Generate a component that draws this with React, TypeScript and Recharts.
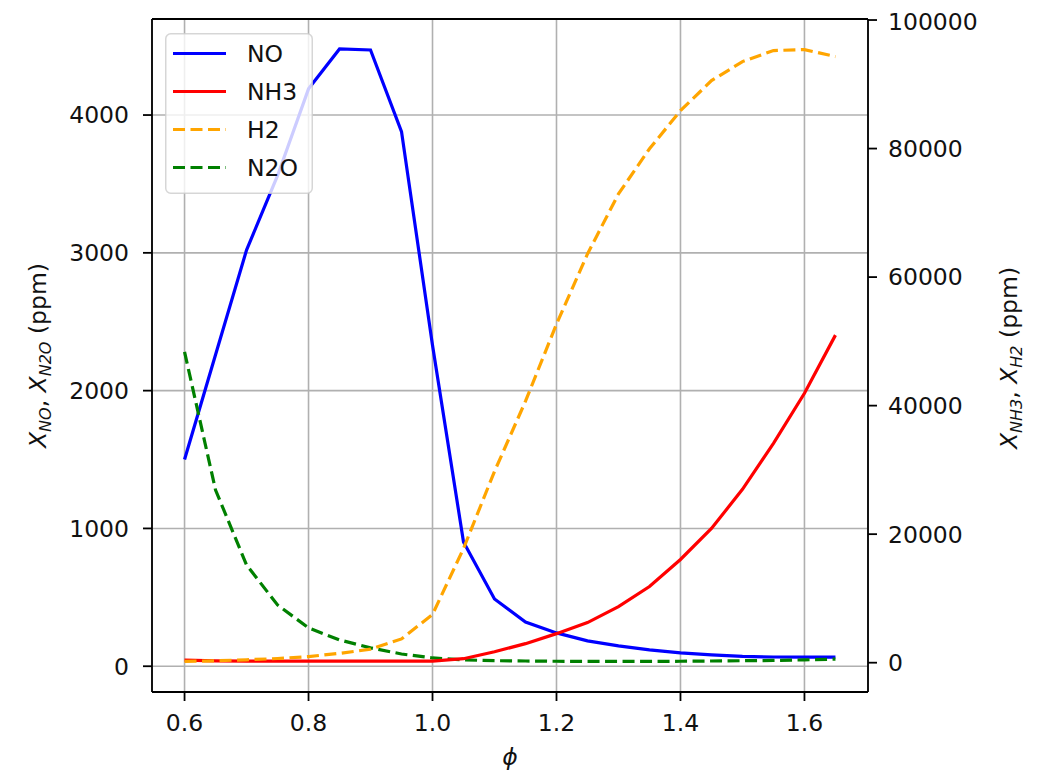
import React from 'react';
import { LineChart, Line, XAxis, YAxis, CartesianGrid, ReferenceLine, Legend } from 'recharts';

const phi = [0.6, 0.65, 0.7, 0.75, 0.8, 0.85, 0.9, 0.95, 1.0, 1.05, 1.1, 1.15, 1.2, 1.25, 1.3, 1.35, 1.4, 1.45, 1.5, 1.55, 1.6, 1.65];
const noPpm = [1500, 2260, 3020, 3560, 4190, 4480, 4472, 3880, 2330, 902, 488, 321, 242, 184, 148, 119, 97, 82, 71, 67, 66, 66];
const nh3Ppm = [400, 280, 250, 250, 250, 250, 250, 250, 250, 620, 1700, 2960, 4520, 6240, 8730, 11850, 16060, 20890, 26970, 34140, 41930, 50970];
const h2Ppm = [200, 300, 450, 650, 950, 1450, 2100, 3700, 7500, 17770, 29770, 40690, 52690, 63600, 72950, 79970, 85890, 90570, 93530, 95250, 95400, 94310];
const n2oPpm = [2281, 1279, 735, 445, 278, 191, 133, 89, 60, 46, 40, 38, 36, 35, 35, 35, 36, 38, 40, 42, 46, 52];

const xTicks = [0.6, 0.8, 1.0, 1.2, 1.4, 1.6];
const leftTicks = [0, 1000, 2000, 3000, 4000];
const rightTicks = [0, 20000, 40000, 60000, 80000, 100000];

const seriesNames = ['NO', 'NH3', 'H2', 'N2O'];
const seriesColors = ['#0000ff', '#ff0000', '#ffa500', '#008000'];
const seriesDashed = [false, false, true, true];

const data = phi.map((p, i) => ({
  phi: p,
  no: noPpm[i],
  nh3: nh3Ppm[i],
  h2: h2Ppm[i],
  n2o: n2oPpm[i],
}));

const FONT = 'DejaVu Sans, Verdana, sans-serif';
const FS = 23.5;
const SUB = 16;
const DASH = '12 5.5';
const LW = 3.2;

const tickStyle = { fontFamily: FONT, fontSize: FS, fill: '#111' };

const LegendBox = () => (
  <svg width={148} height={161} style={{ display: 'block', overflow: 'visible' }}>
    <rect x={0.75} y={0.75} width={146.5} height={159.5} rx={5} ry={5} fill="rgba(255,255,255,0.8)" stroke="rgba(204,204,204,0.8)" strokeWidth={1.5} />
    {seriesNames.map((n, i) => {
      const cy = 20.5 + i * 38;
      return (
        <g key={n}>
          <line x1={8} x2={61} y1={cy} y2={cy} stroke={seriesColors[i]} strokeWidth={LW} strokeDasharray={seriesDashed[i] ? DASH : undefined} />
          <text x={82} y={cy + 8.5} fontFamily={FONT} fontSize={FS} fill="#111">{n}</text>
        </g>
      );
    })}
  </svg>
);

export default function App() {
  return (
    <div style={{ position: 'relative', width: 1030, height: 767 }}>
      <LineChart width={1030} height={767} data={data} margin={{ top: 11, right: 0, bottom: 0, left: 0 }}>
        <CartesianGrid yAxisId="left" stroke="#b0b0b0" strokeWidth={1.6} />
        <XAxis
          dataKey="phi"
          type="number"
          domain={[0.5475, 1.7025]}
          allowDataOverflow
          ticks={xTicks}
          tickFormatter={(v: number) => v.toFixed(1)}
          height={83}
          tickSize={9}
          tickMargin={13}
          tick={tickStyle}
          stroke="#000"
          axisLine={{ stroke: '#000', strokeWidth: 1.8 }}
          tickLine={{ stroke: '#000', strokeWidth: 1.8 }}
        />
        <YAxis
          yAxisId="left"
          orientation="left"
          type="number"
          domain={[-187, 4697]}
          allowDataOverflow
          ticks={leftTicks}
          width={144}
          tickSize={9}
          tickMargin={14}
          tick={tickStyle}
          axisLine={{ stroke: '#000', strokeWidth: 1.8 }}
          tickLine={{ stroke: '#000', strokeWidth: 1.8 }}
        />
        <YAxis
          yAxisId="right"
          orientation="right"
          type="number"
          domain={[-4560, 100160]}
          allowDataOverflow
          ticks={rightTicks}
          width={170}
          tickSize={9}
          tickMargin={11}
          tick={tickStyle}
          axisLine={{ stroke: '#000', strokeWidth: 1.8 }}
          tickLine={{ stroke: '#000', strokeWidth: 1.8 }}
        />
        <ReferenceLine yAxisId="left" y={4697} stroke="#000" strokeWidth={1.8} ifOverflow="extendDomain" />
        <Line yAxisId="left" type="linear" dataKey="no" stroke={seriesColors[0]} strokeWidth={LW} dot={false} isAnimationActive={false} />
        <Line yAxisId="left" type="linear" dataKey="n2o" stroke={seriesColors[3]} strokeWidth={LW} strokeDasharray={DASH} dot={false} isAnimationActive={false} />
        <Line yAxisId="right" type="linear" dataKey="nh3" stroke={seriesColors[1]} strokeWidth={LW} dot={false} isAnimationActive={false} />
        <Line yAxisId="right" type="linear" dataKey="h2" stroke={seriesColors[2]} strokeWidth={LW} strokeDasharray={DASH} dot={false} isAnimationActive={false} />
        <Legend
          layout="vertical"
          align="center"
          verticalAlign="middle"
          wrapperStyle={{ left: 157, top: 25, width: 148, height: 161 }}
          content={() => <LegendBox />}
        />
      </LineChart>
      <svg width={1030} height={767} style={{ position: 'absolute', left: 0, top: 0, pointerEvents: 'none' }}>
        <text transform="translate(37.5,347.5) rotate(-90)" textAnchor="middle" fontFamily={FONT} fontSize={FS} fill="#111">
          <tspan fontStyle="italic">X</tspan>
          <tspan fontStyle="italic" fontSize={SUB} dy={5}>NO</tspan>
          <tspan dy={-5}>, </tspan>
          <tspan fontStyle="italic">X</tspan>
          <tspan fontStyle="italic" fontSize={SUB} dy={5}>N2O</tspan>
          <tspan dy={-5}> (ppm)</tspan>
        </text>
        <text transform="translate(1009,350) rotate(-90)" textAnchor="middle" fontFamily={FONT} fontSize={FS} fill="#111">
          <tspan fontStyle="italic">X</tspan>
          <tspan fontStyle="italic" fontSize={SUB} dy={5}>NH3</tspan>
          <tspan dy={-5}>, </tspan>
          <tspan fontStyle="italic">X</tspan>
          <tspan fontStyle="italic" fontSize={SUB} dy={5}>H2</tspan>
          <tspan dy={-5}> (ppm)</tspan>
        </text>
        <text x={502} y={757} textAnchor="middle" fontFamily={FONT} fontSize={FS} fontStyle="italic" fill="#111">ϕ</text>
      </svg>
    </div>
  );
}
